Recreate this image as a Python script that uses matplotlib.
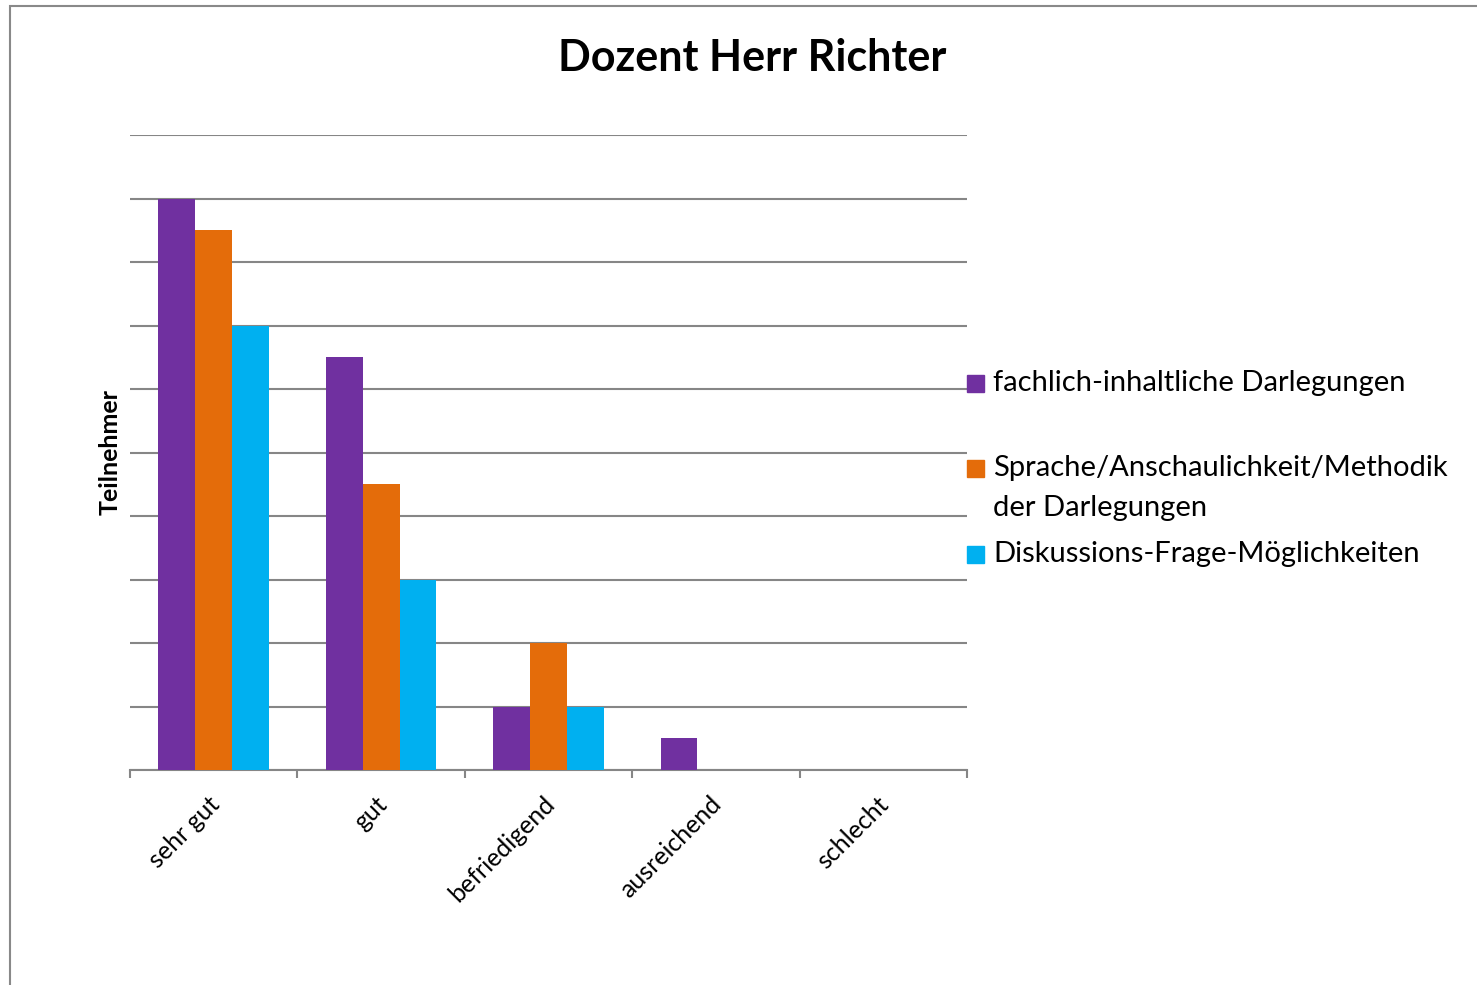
import numpy as np
import matplotlib.pyplot as plt
import matplotlib.patches as mpatches
from matplotlib.transforms import ScaledTranslation

# Daten
kategorien = ["sehr gut", "gut", "befriedigend", "ausreichend", "schlecht"]
fachlich = [18, 13, 2, 1, 0]
sprache = [17, 9, 4, 0, 0]
diskussion = [14, 6, 2, 0, 0]
serien = ["fachlich-inhaltliche Darlegungen",
          "Sprache/Anschaulichkeit/Methodik\nder Darlegungen",
          "Diskussions-Frage-Möglichkeiten"]
farben = ["#7030A0", "#E46C0A", "#00B0F0"]

plt.rcParams['font.family'] = ['Lato', 'DejaVu Sans']

W, H = 1477, 985
fig = plt.figure(figsize=(W / 100, H / 100), dpi=100)
ax = fig.add_axes([130 / W, 1 - 770 / H, 837 / W, 635 / H])

x = np.arange(len(kategorien))
breite = 0.22
balken = []
for i, (werte, farbe, name) in enumerate(zip([fachlich, sprache, diskussion], farben, serien)):
    b = ax.bar(x + (i - 1) * breite, werte, breite, color=farbe, label=name, zorder=3)
    balken.append(b)

grau = "#868686"
ax.set_xlim(-0.5, len(kategorien) - 0.5)
ax.set_ylim(0, 20)
ax.set_yticks(range(0, 21, 2))
ax.yaxis.grid(True, color=grau, lw=1.5)
ax.set_axisbelow(True)
ax.tick_params(axis='y', length=0, labelleft=False)
for s in ['top', 'right', 'left']:
    ax.spines[s].set_visible(False)
ax.spines['bottom'].set_color(grau)
ax.spines['bottom'].set_linewidth(1.5)

# Teilstriche an den Kategoriegrenzen, Beschriftung in der Mitte
ax.set_xticks(np.arange(-0.5, len(kategorien), 1))
ax.set_xticklabels([])
ax.tick_params(axis='x', which='major', length=6, color=grau, width=1.5)
ax.set_xticks(x, minor=True)
ax.set_xticklabels(kategorien, minor=True, rotation=45, ha='right', va='center',
                   rotation_mode='anchor', fontsize=18)
ax.tick_params(axis='x', which='minor', length=0, pad=22)
for lab in ax.get_xticklabels(minor=True):
    lab.set_transform(lab.get_transform() + ScaledTranslation(0.02, 0, fig.dpi_scale_trans))

fig.text(752 / W, 1 - 58 / H, "Dozent Herr Richter", ha='center', va='center',
         fontsize=31, fontweight='bold')
fig.text(110 / W, 1 - 452 / H, "Teilnehmer", rotation=90, ha='center', va='center',
         fontsize=18, fontweight='bold')

# Legende rechts
leg_y = [383, 468, 554]
for b, y in zip(balken, leg_y):
    farbe = b.patches[0].get_facecolor()
    fig.add_artist(mpatches.Rectangle((967 / W, 1 - (y + 8.5) / H), 17 / W, 17 / H,
                                      transform=fig.transFigure, color=farbe))
    for k, zeile in enumerate(b.get_label().split("\n")):
        fig.text(993 / W, 1 - (y + 40 * k) / H, zeile, ha='left', va='center', fontsize=21)

# Rahmen
fig.add_artist(mpatches.Rectangle((9.5 / W, -0.05), 1.1, 1.05 - 5.5 / H,
                                  transform=fig.transFigure, fill=False,
                                  edgecolor="#898989", lw=1.5, clip_on=False))

fig.savefig("out.png", dpi=100)
